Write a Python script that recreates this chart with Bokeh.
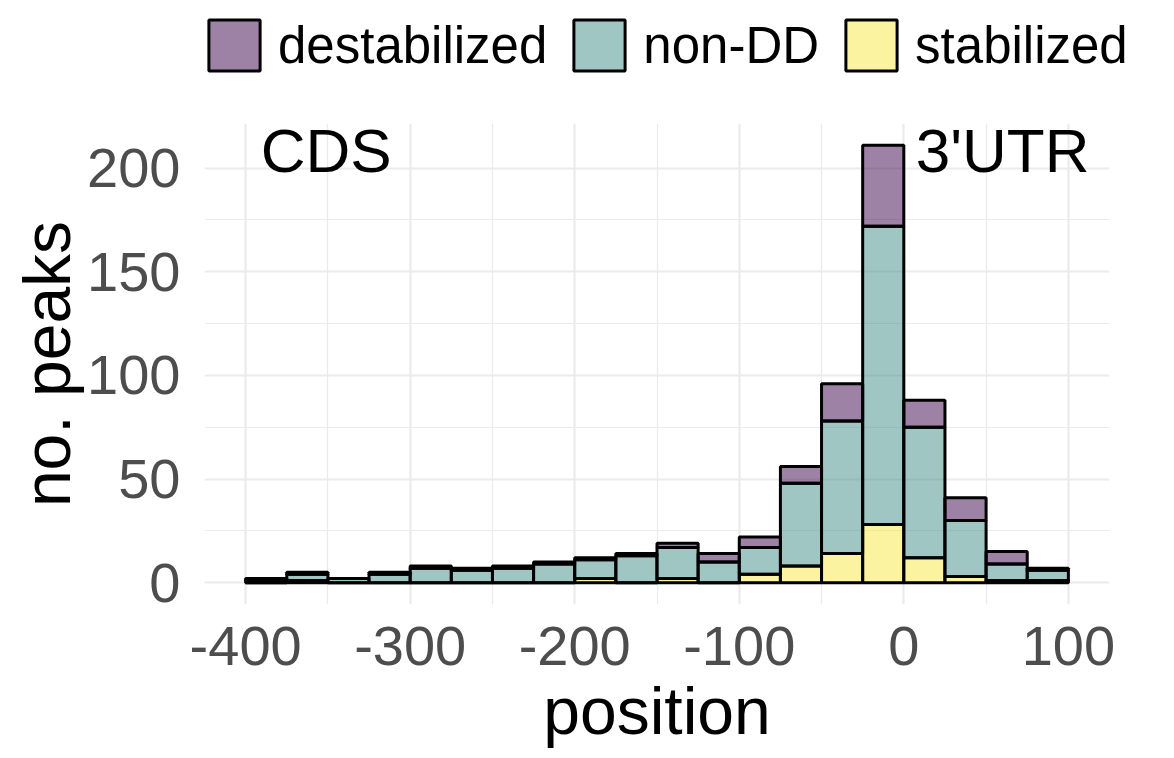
"""Stacked histogram of peak positions around the stop codon"""
from bokeh.core.properties import value
from bokeh.embed import file_html
from bokeh.layouts import column
from bokeh.models import (ColumnDataSource, FixedTicker, Legend, LegendItem,
                          PrintfTickFormatter, Range1d)
from bokeh.plotting import figure
from bokeh.resources import INLINE

# bin left edges (width 25) and counts per group
bin_starts = [-400, -375, -350, -325, -300, -275, -250, -225, -200, -175,
              -150, -125, -100, -75, -50, -25, 0, 25, 50, 75]
stabilized = [0, 1, 0, 0, 0, 0, 0, 0, 2, 0, 2, 0, 4, 8, 14, 28, 12, 3, 1, 1]
non_dd = [1, 3, 2, 4, 7, 6, 7, 9, 9, 13, 15, 10, 13, 40, 64, 144, 63, 27, 8, 5]
destabilized = [1, 1, 0, 1, 1, 1, 1, 1, 1, 1, 2, 4, 5, 8, 18, 39, 13, 11, 6, 1]
bin_width = 25

x_ticks = [-400, -300, -200, -100, 0, 100]
x_minor = [-350, -250, -150, -50, 50]
y_ticks = [0, 50, 100, 150, 200]
y_minor = [25, 75, 125, 175]

annot_text = ["CDS", "3'UTR"]
annot_x = [-351, 60]
annot_y = [208.5, 208.5]

legend_labels = ["destabilized", "non-DD", "stabilized"]

FONT = "Liberation Sans"
stackers = ["stabilized", "non_dd", "destabilized"]
colors = {"stabilized": "#F7E741", "non_dd": "#418D89", "destabilized": "#3D054D"}
bar_style = dict(fill_alpha=0.5, line_color="black", line_width=3)

source = ColumnDataSource(data=dict(
    x=[b + bin_width / 2 for b in bin_starts],
    stabilized=stabilized,
    non_dd=non_dd,
    destabilized=destabilized,
))

# --- legend strip on top ---
leg = figure(
    width=1166,
    height=100,
    x_range=(0, 1),
    y_range=(0, 1),
    x_axis_location=None,
    y_axis_location=None,
    output_backend="svg",
    toolbar_location=None,
    tools="",
    min_border=0,
)
leg.grid.visible = False
leg.outline_line_color = None
legend_x = -2
if "frame_align" in leg.properties():
    leg.frame_align = False
    legend_x = 202
# tiny placeholder bars hidden behind the opaque legend box,
# only there to give the legend its swatches
dummies = [
    leg.vbar(x=[0.5], bottom=[0.49], top=[0.51], width=0.001,
             fill_color=colors[s], **bar_style)
    for s in ["destabilized", "non_dd", "stabilized"]
]
# bokeh insets area swatches by 10% per side: 64px box -> ~51px swatch
legend = Legend(
    items=[LegendItem(label=lab, renderers=[r]) for lab, r in zip(legend_labels, dummies)],
    orientation="horizontal",
    location=(legend_x, 23),
    glyph_width=64,
    glyph_height=64,
    label_standoff=12,
    spacing=20,
    padding=0,
    margin=0,
    border_line_color=None,
    background_fill_color="white",
    background_fill_alpha=1,
    label_text_font=FONT,
    label_text_font_size="51px",
    label_text_color="black",
)
leg.add_layout(legend)

# --- main histogram ---
p = figure(
    width=1166,
    height=650,
    x_range=Range1d(-425, 125),
    y_range=Range1d(-10.55, 221.55),
    output_backend="svg",
    toolbar_location=None,
    tools="",
    x_axis_label="position",
    y_axis_label="no. peaks",
)
if "frame_align" in p.properties():
    p.frame_align = False
p.min_border_left = 204
p.min_border_right = 57
p.min_border_top = 23
p.min_border_bottom = 141
p.outline_line_color = None

p.vbar_stack(
    stackers,
    x="x",
    width=bin_width,
    source=source,
    fill_color=[colors[s] for s in stackers],
    **bar_style,
)

p.text(
    x=annot_x,
    y=annot_y,
    text=annot_text,
    text_font=value(FONT),
    text_font_size="62px",
    text_align="center",
    text_baseline="middle",
    text_color="black",
)

# Adjust plot settings
p.xaxis.ticker = FixedTicker(ticks=x_ticks, minor_ticks=x_minor)
p.yaxis.ticker = FixedTicker(ticks=y_ticks, minor_ticks=y_minor)
p.axis.formatter = PrintfTickFormatter(format="%d")
p.xgrid.grid_line_color = "#EBEBEB"
p.ygrid.grid_line_color = "#EBEBEB"
p.xgrid.grid_line_width = 2.2
p.ygrid.grid_line_width = 2.2
p.xgrid.minor_grid_line_color = "#EBEBEB"
p.ygrid.minor_grid_line_color = "#EBEBEB"
p.xgrid.minor_grid_line_width = 1.2
p.ygrid.minor_grid_line_width = 1.2
p.axis.axis_line_color = None
p.axis.major_tick_line_color = None
p.axis.minor_tick_line_color = None
p.axis.major_label_text_font = FONT
p.axis.major_label_text_font_size = "56px"
p.axis.major_label_text_color = "#4D4D4D"
p.axis.axis_label_text_font = FONT
p.axis.axis_label_text_font_size = "66px"
p.axis.axis_label_text_font_style = "normal"
p.axis.axis_label_text_color = "black"
p.xaxis.major_label_standoff = 16
p.yaxis.major_label_standoff = 18
p.xaxis.axis_label_standoff = 6
p.yaxis.axis_label_standoff = 0

layout = column(leg, p, spacing=0)
open("out.html", "w").write(file_html(layout, INLINE))
